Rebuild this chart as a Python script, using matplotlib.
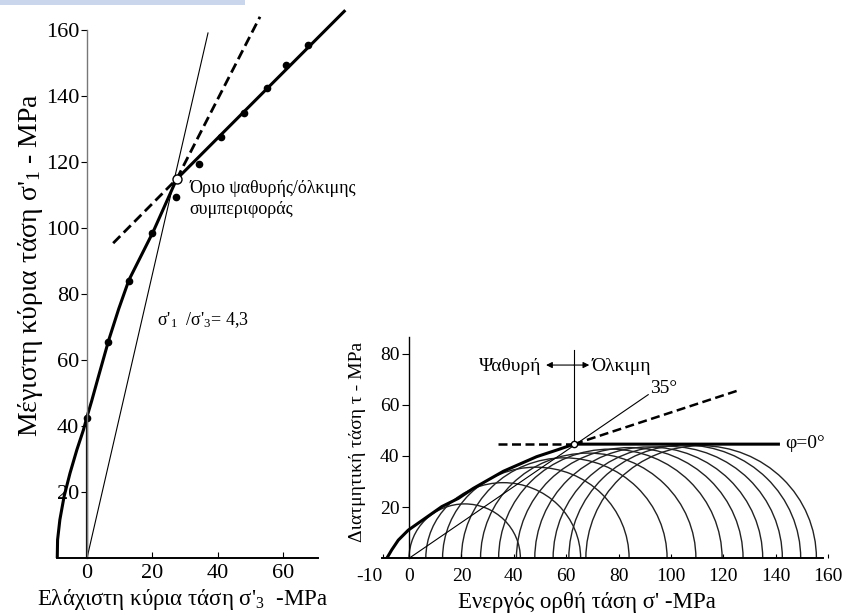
import numpy as np
import matplotlib
matplotlib.use('Agg')
import matplotlib.pyplot as plt
from matplotlib.patches import Arc, Rectangle

plt.rcParams['font.family'] = ['Liberation Serif', 'DejaVu Serif']
plt.rcParams['mathtext.fontset'] = 'custom'
plt.rcParams['mathtext.rm'] = 'Liberation Serif'
plt.rcParams['mathtext.it'] = 'Liberation Serif:italic'

# triaxial test results: effective principal stresses at peak (MPa)
sigma3 = [0, 6.4, 12.8, 20.0, 27.3, 34.2, 41.0, 48.0, 55.0, 61.0, 67.5]
sigma1 = [42.5, 65.5, 84.0, 98.5, 109.5, 119.5, 127.5, 135.0, 142.5, 149.5, 155.5]

# peak strength curve in the s3 - s1 plane
env_s3 = [-9.1, -9.0, -8.3, -7.0, -5.2, -3.1, -1.1, 0.0, 1.4, 3.5, 6.6, 9.7, 12.8, 20.2, 27.4, 79.0]
env_s1 = [0.0, 5.5, 11.6, 18.7, 25.7, 32.8, 38.8, 42.8, 47.5, 55.0, 65.9, 75.5, 84.2, 98.8, 114.8, 166.0]

# dashed continuations of both branches through the transition point
dash_s3 = [8.0, 27.4, 52.9]
dash_s1 = [95.4, 114.8, 164.0]

transition = (27.4, 114.8)
ratio = 4.3
ratio_s3_max = 37.0

# Mohr diagram
mohr_env_s = [-8.5, -6.6, -4.1, -0.3, 6.1, 12.5, 18.8, 24.5, 36.0, 48.7, 57.0, 63.0, 141.0]
mohr_env_t = [0.0, 3.3, 7.1, 11.0, 15.6, 20.2, 23.4, 27.3, 34.0, 39.7, 42.5, 44.6, 44.6]
bd_point = (63.0, 44.6)
flat_dash_s = [34.0, 63.0]
steep_dash_s = [63.0, 126.3]
steep_dash_t = [44.6, 65.8]
phi_deg = 35
phi_line_end = 91.3

left_yticks = [20, 40, 60, 80, 100, 120, 140, 160]
left_xticks = [0, 20, 40, 60]
right_xticks = [-10, 0, 20, 40, 60, 80, 100, 120, 140, 160]
right_yticks = [20, 40, 60, 80]

W, H = 842, 616


def box(x0, x1, y_top, y_bot):
    # axes rectangle from pixel edges
    return [x0 / W, 1 - y_bot / H, (x1 - x0) / W, (y_bot - y_top) / H]


fig = plt.figure(figsize=(W / 100, H / 100), dpi=100)
fig.add_artist(Rectangle((0, 1 - 5 / H), 245 / W, 5 / H, transform=fig.transFigure,
                         color='#c9d6ec', lw=0))

# ---- left: s1 vs s3 ----
ax = fig.add_axes(box(56.6, 318.2, 30, 558))
ax.set_xlim(-9.3, 70.7)
ax.set_ylim(0, 160)
for s in ['top', 'right']:
    ax.spines[s].set_visible(False)
ax.spines['left'].set_position(('data', 0))
ax.spines['left'].set_color('#777777')
ax.spines['left'].set_linewidth(1.0)
ax.spines['bottom'].set_linewidth(1.4)
ax.set_xticks(left_xticks)
ax.set_yticks(left_yticks)
ax.tick_params(axis='x', direction='in', length=4, pad=4, labelsize=16)
ax.tick_params(axis='y', direction='out', length=4, pad=1.5, labelsize=16)

ax.plot([0, ratio_s3_max], [0, ratio * ratio_s3_max], color='black', lw=0.8, clip_on=False)
ax.plot([0, 0], [0, sigma1[0]], color='black', lw=1.6)
ax.plot(env_s3, env_s1, color='black', lw=2.2, clip_on=False, solid_capstyle='butt')
ax.plot(dash_s3, dash_s1, color='black', lw=2.0, dashes=(3.6, 1.8), clip_on=False)
ax.plot(sigma3, sigma1, 'o', color='black', ms=4.5, clip_on=False)
ax.plot(*transition, 'o', ms=6.5, mfc='white', mec='black', mew=1.0, zorder=5)

ax.text(31.3, 110.6, 'Όριο ψαθυρής/όλκιμης', fontsize=13, va='baseline')
ax.text(31.3, 104.2, 'συμπεριφοράς', fontsize=13, va='baseline')
ax.text(21.3, 70.6, "σ'$_1$  /σ'$_3$= 4,3", fontsize=13, va='baseline')

fig.text(183 / W, 1 - 605 / H, "Ελάχιστη κύρια τάση σ'$_3$  -MPa", fontsize=16.5,
         ha='center', va='baseline')
fig.text(31 / W, 1 - 265 / H, "Μέγιστη κύρια τάση σ'$_1$ - MPa", fontsize=20,
         ha='center', va='center', rotation=90)

# ---- right: Mohr circles ----
bx = fig.add_axes(box(381.8, 829.5, 336.9, 558.3))
bx.set_xlim(-10.4, 160.5)
bx.set_ylim(0, 86.5)
for s in ['top', 'right']:
    bx.spines[s].set_visible(False)
bx.spines['left'].set_position(('data', 0))
bx.spines['left'].set_linewidth(1.0)
bx.spines['bottom'].set_linewidth(1.4)
bx.spines['bottom'].set_bounds(-10.4, 158)
bx.set_xticks(right_xticks)
bx.set_xticklabels([str(v) for v in right_xticks])
bx.set_yticks(right_yticks)
bx.tick_params(axis='x', direction='in', length=3, pad=7, labelsize=14)
bx.tick_params(axis='y', direction='out', length=5, pad=2, labelsize=14)
bx.get_xticklabels()[0].set_ha('right')

for s3, s1 in zip(sigma3, sigma1):
    d = s1 - s3
    bx.add_patch(Arc(((s1 + s3) / 2, 0), d, d, theta1=0, theta2=180, lw=1.0, color='#222222'))

bx.plot(mohr_env_s, mohr_env_t, color='black', lw=2.2)
bx.plot(flat_dash_s, [bd_point[1]] * 2, color='black', lw=1.8, dashes=(3.6, 1.8))
bx.plot(steep_dash_s, steep_dash_t, color='black', lw=1.8, dashes=(3.6, 1.8))
bx.plot([0, phi_line_end], [0, phi_line_end * np.tan(np.radians(phi_deg))], color='black', lw=0.8)
bx.plot([bd_point[0]] * 2, [bd_point[1], 81.4], color='black', lw=0.8, clip_on=False)
bx.plot(*bd_point, 'o', ms=4.5, mfc='white', mec='black', mew=1.0, zorder=5)

arrow = dict(arrowstyle='-|>', color='black', lw=0.8, mutation_scale=9, shrinkA=0, shrinkB=0)
bx.annotate('', xy=(52.3, 75.5), xytext=(bd_point[0], 75.5), arrowprops=arrow)
bx.annotate('', xy=(68.8, 75.5), xytext=(bd_point[0], 75.5), arrowprops=arrow)
bx.text(50.6, 73.2, 'Ψαθυρή', fontsize=14, ha='right', va='baseline')
bx.text(69.7, 73.2, 'Όλκιμη', fontsize=14, ha='left', va='baseline')
bx.text(92.0, 64.4, f'{phi_deg}°', fontsize=14, va='baseline')
bx.text(143.5, 45.0, 'φ=0°', fontsize=14, va='center')

fig.text(586.5 / W, 1 - 608 / H, "Ενεργός ορθή τάση σ' -MPa", fontsize=16.5,
         ha='center', va='baseline')
fig.text(358 / W, 1 - 441.5 / H, 'Διατμητική τάση τ - MPa', fontsize=14,
         ha='center', va='center', rotation=90)

fig.savefig('out.png', dpi=100)
